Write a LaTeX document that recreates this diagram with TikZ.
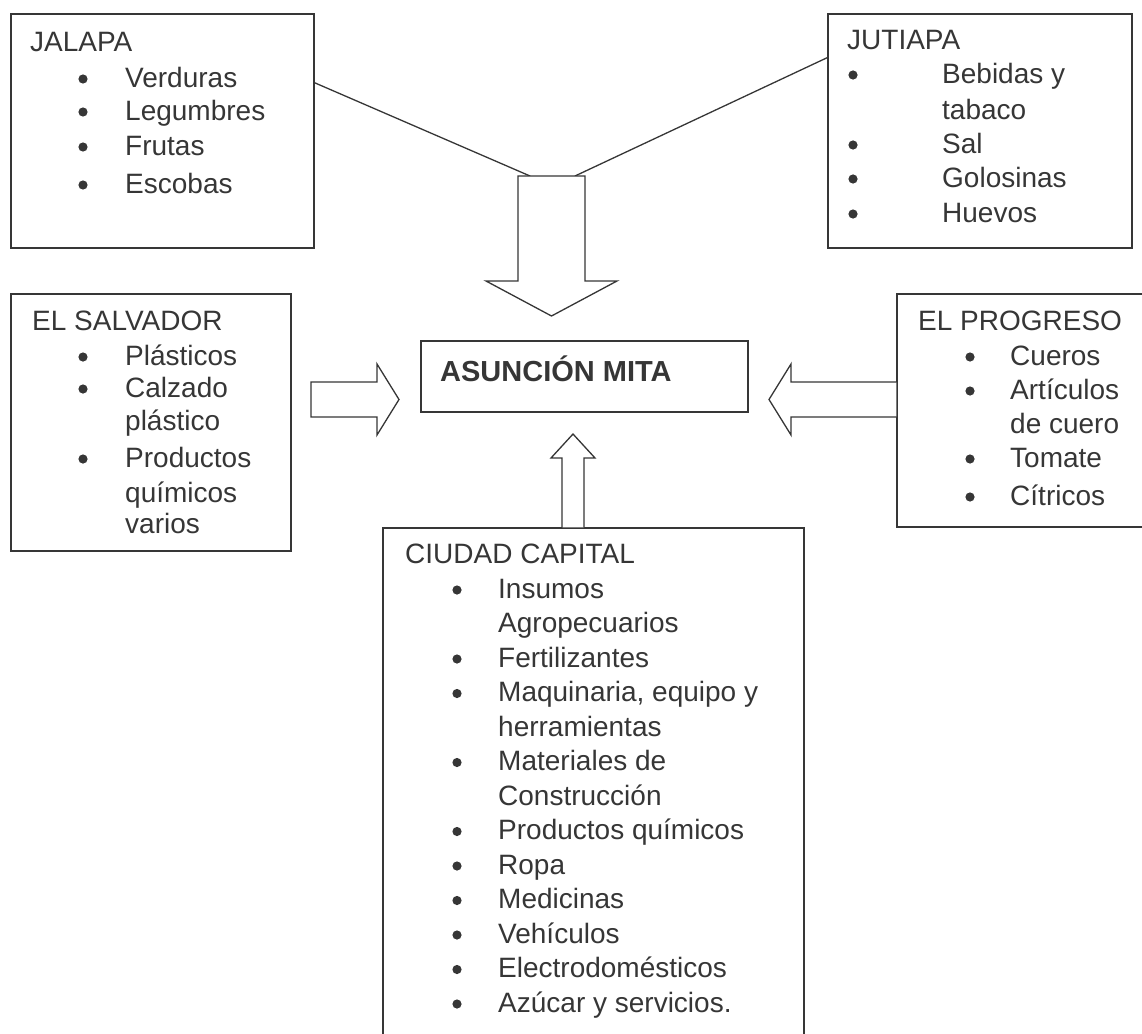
\documentclass[tikz,border=0pt]{standalone}
\usepackage{fontspec}
\setmainfont{Liberation Sans}
\usetikzlibrary{calc}
\definecolor{ink}{HTML}{363636}
\tikzset{
  box/.style={draw=ink,line width=1.3pt,inner sep=0pt},
  item/.style={anchor=base west,inner sep=0pt,text=ink,font=\fontsize{28}{34}\selectfont},
  link/.style={draw=ink,line width=1.3pt},
  blockarrow/.style={draw=ink,line width=1.3pt,line join=miter,fill=white},
}
\newcommand{\dotat}[2]{\fill[ink] (#1,#2) circle (4.6);}
\begin{document}
\begin{tikzpicture}[x=1pt,y=-1pt,line cap=round]
\clip (0,0) rectangle (1142,1033);
% boxes
\node[box,minimum width=303,minimum height=234] (jalapa) at (162.5,131) {};
\node[box,minimum width=304,minimum height=234] (jutiapa) at (980,131) {};
\node[box,minimum width=280,minimum height=257] (salvador) at (151,422.5) {};
\node[box,minimum width=263,minimum height=233] (progreso) at (1028.5,410.5) {};
\node[box,minimum width=327,minimum height=71] (mita) at (584.5,376.5) {};
\node[box,minimum width=421,minimum height=532] (capital) at (593.5,794) {};
% lines into the big arrow
\coordinate (dl) at (530,176);
\coordinate (dr) at (575,176);
\draw[link] ($(jalapa.north east)!0.295!(jalapa.south east)$) -- (dl);
\draw[link] ($(jutiapa.north west)!0.188!(jutiapa.south west)$) -- (dr);
% block arrows
\draw[blockarrow] (518,176) -- (585,176) -- (585,281) -- (617,281) -- (551.5,316)
  -- (486,281) -- (518,281) -- cycle;
\draw[blockarrow] (311,382) -- (377,382) -- (377,364) -- (399,399.5) -- (377,435)
  -- (377,417) -- (311,417) -- cycle;
\draw[blockarrow] (progreso.west |- 0,382) -- (791,382) -- (791,364) -- (769,399.5)
  -- (791,435) -- (791,417) -- (progreso.west |- 0,417);
\draw[blockarrow] (capital.north -| 562,0) -- (562,458) -- (551,458) -- (573,434)
  -- (595,458) -- (584,458) -- (capital.north -| 584,0);
% JALAPA
\node[item] (jalT) at (30,52) {JALAPA};
\foreach \y/\t [count=\i] in {87/Verduras,120/Legumbres,155/Frutas,193/Escobas}
  {\node[item] (jal\i) at (125,\y) {\t};}
\foreach \y in {87,120,155,193} {\dotat{83}{\y-8}}
% JUTIAPA
\node[item] (jutT) at (847,50) {JUTIAPA};
\foreach \y/\t [count=\i] in {83/Bebidas y,119/tabaco,153/Sal,187/Golosinas,222/Huevos}
  {\node[item] (jut\i) at (942,\y) {\t};}
\foreach \y in {83,153,187,222} {\dotat{853}{\y-8}}
% EL SALVADOR
\node[item] (salT) at (32,330) {EL SALVADOR};
\foreach \y/\t [count=\i] in {365/Plásticos,397/Calzado,430/plástico,467/Productos,
  502/químicos,533/varios}
  {\node[item] (sal\i) at (125,\y) {\t};}
\foreach \y in {365,397,467} {\dotat{83}{\y-8}}
% EL PROGRESO
\node[item] (proT) at (918,330) {EL PROGRESO};
\foreach \y/\t [count=\i] in {365/Cueros,399/Artículos,433/de cuero,467/Tomate,505/Cítricos}
  {\node[item] (pro\i) at (1010,\y) {\t};}
\foreach \y in {365,399,467,505} {\dotat{970}{\y-8}}
% ASUNCION MITA
\node[item,font=\fontsize{29}{34}\selectfont\bfseries] (mitaT) at (440,381) {ASUNCIÓN MITA};
% CIUDAD CAPITAL
\node[item] (capT) at (405,563) {CIUDAD CAPITAL};
\foreach \t [count=\i] in {Insumos,Agropecuarios,Fertilizantes,{Maquinaria, equipo y},
  herramientas,Materiales de,Construcción,Productos químicos,Ropa,Medicinas,Vehículos,
  Electrodomésticos,Azúcar y servicios.}
  {\node[item] (cap\i) at (498,{563.5+\i*34.5}) {\t};}
\foreach \i in {1,3,4,6,8,9,10,11,12,13} {\dotat{457}{563.5+\i*34.5-8}}
\end{tikzpicture}
\end{document}
